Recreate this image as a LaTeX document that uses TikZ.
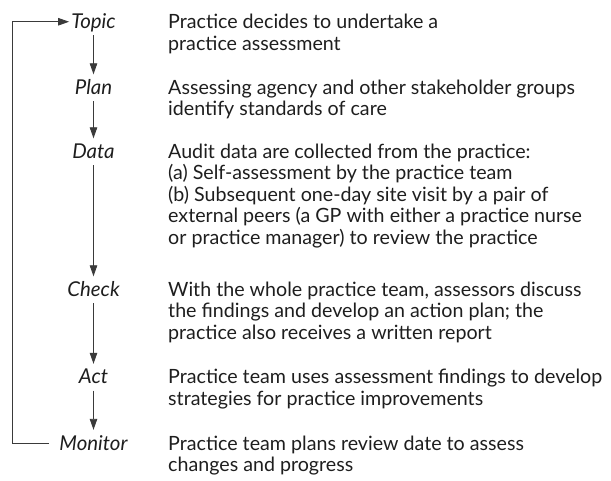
\documentclass[tikz,border=0pt]{standalone}
\usepackage{fontspec}
\setmainfont{Lato}
\usetikzlibrary{arrows.meta}
\definecolor{txt}{HTML}{1E1E1E}
\definecolor{ln}{HTML}{3A3A3A}
\newlength\reflen
\begin{document}
\settowidth\reflen{\fontsize{10pt}{12pt}\selectfont Practice team uses assessment findings to develop}%
\pgfmathsetmacro\fsz{4340/\reflen}%
\pgfmathsetmacro\lsz{1.04*\fsz}%
\begin{tikzpicture}[x=1pt,y=-1pt,
  txtfont/.style={font=\fontsize{\fsz pt}{21.5pt}\selectfont},
  lbl/.style={font=\fontsize{\lsz pt}{21.5pt}\selectfont\itshape, anchor=base, inner sep=0pt,
              text height=20pt, text depth=6.5pt, text=txt},
  desc/.style={txtfont, anchor=base west, align=left, inner sep=0pt, text=txt},
  flow/.style={draw=ln, line width=0.9pt, -{Triangle[length=11pt,width=7.5pt]}}]
\useasboundingbox (0,0) rectangle (611,481);
\node[lbl] (topic) at (93.5,28.5) {Topic};
\node[lbl] (plan) at (93.5,94.5) {Plan};
\node[lbl] (data) at (93.5,158.5) {Data};
\node[lbl] (check) at (93.5,296.5) {Check};
\node[lbl] (act) at (93.5,384) {Act};
\node[lbl] (monitor) at (93.5,450) {Monitor};
% multi-line nodes: base anchor is the last line's baseline
\node[desc] (dtopic) at (168,50.5) {Practice decides to undertake a\\practice assessment};
\node[desc] (dplan) at (168,116) {Assessing agency and other stakeholder groups\\identify standards of care};
\node[desc] (ddata) at (168,244.5) {Audit data are collected from the practice:\\(a) Self-assessment by the practice team\\(b) Subsequent one-day site visit by a pair of\\external peers (a GP with either a practice nurse\\or practice manager) to review the practice};
\node[desc] (dcheck) at (168,339.5) {With the whole practice team, assessors discuss\\the findings and develop an action plan; the\\practice also receives a written report};
\node[desc] (dact) at (168,405.5) {Practice team uses assessment findings to develop\\strategies for practice improvements};
\node[desc] (dmonitor) at (168,471.5) {Practice team plans review date to assess\\changes and progress};
\draw[flow] (topic) -- (plan);
\draw[flow] (plan) -- (data);
\draw[flow] (data) -- (check);
\draw[flow] (check) -- (act);
\draw[flow] (act) -- (monitor);
\coordinate (fb) at (12,0);
\draw[flow, shorten <=10pt, shorten >=2pt] (monitor.west) -| (fb |- topic.west) -- (topic.west);
\end{tikzpicture}
\end{document}
